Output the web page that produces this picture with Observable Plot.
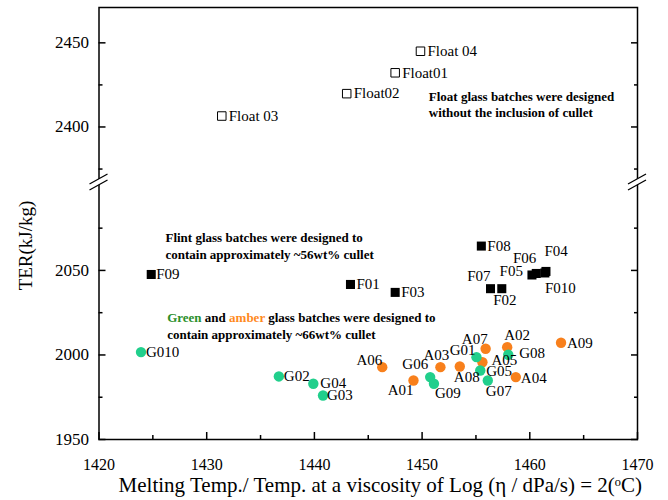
<!DOCTYPE html>
<html>
<head>
<meta charset="utf-8">
<script src="https://cdn.jsdelivr.net/npm/d3@7"></script>
<script src="https://cdn.jsdelivr.net/npm/@observablehq/plot@0.6"></script>
<style>
  body { margin: 0; background: #fff; }
  #chart svg { display: block; }
  #chart svg text { font-family: 'Liberation Serif', 'Times New Roman', Times, serif; }
</style>
</head>
<body>
<div id="chart"></div>
<script>
// ---------- data ----------
const floatNames = ["Float01", "Float02", "Float 03", "Float 04"];
const floatX = [1447.5, 1443.0, 1431.4, 1449.85];
const floatY = [2432.2, 2419.8, 2406.5, 2445.0];

const flintNames = ["F01", "F02", "F03", "F04", "F05", "F06", "F07", "F08", "F09", "F010"];
const flintX = [1443.35, 1457.4, 1447.5, 1461.5, 1460.2, 1460.6, 1456.35, 1455.5, 1424.85, 1461.4];
const flintY = [2041.7, 2039.2, 2037.0, 2049.4, 2047.3, 2048.2, 2039.2, 2064.4, 2047.6, 2048.5];

const greenNames = ["G01", "G02", "G03", "G04", "G05", "G06", "G07", "G08", "G09", "G010"];
const greenX = [1455.05, 1436.7, 1440.8, 1439.9, 1455.4, 1450.75, 1456.1, 1458.0, 1451.1, 1423.9];
const greenY = [1998.7, 1987.3, 1976.0, 1983.0, 1990.8, 1986.9, 1984.9, 2000.1, 1983.0, 2001.7];

const amberNames = ["A01", "A02", "A03", "A04", "A05", "A06", "A07", "A08", "A09"];
const amberX = [1449.2, 1457.9, 1451.7, 1458.7, 1455.6, 1446.3, 1455.9, 1453.5, 1462.9];
const amberY = [1984.9, 2004.6, 1992.8, 1986.9, 1995.7, 1992.8, 2003.7, 1993.2, 2007.2];

const xMajor = [1420, 1430, 1440, 1450, 1460, 1470];
const xMinor = [1425, 1435, 1445, 1455, 1465];
const yMajor = [1950, 2000, 2050, 2400, 2450];
const yMinor = [1975, 2025, 2075, 2375, 2425];
const yBreak = [2102, 2367];          // lower section top / upper section bottom
const yExtent = [1950, 2471];

const xLabel = "Melting Temp./ Temp. at a viscosity of Log (\u03B7 / dPa/s) = 2(\u1D52C)";
const yLabel = "TER(kJ/kg)";

const noteFloat = { x: 1450.62, y: 2413.8, text: "Float glass batches were designed\nwithout the inclusion of cullet" };
const noteFlint = { x: 1426.17, y: 2064.8, text: "Flint glass batches were designed to\ncontain approximately ~56wt% cullet" };
const gaLine1 = "Green and amber glass batches were designed to";
const noteGA = { x: 1426.33, y: 2017.8, text: gaLine1 + "\ncontain approximately ~66wt% cullet" };

// label placement: [textAnchor, dx, dy]
const labelPlacement = {
  "Float01": ["start", 7, 0], "Float02": ["start", 7, 0], "Float 03": ["start", 7, 0], "Float 04": ["start", 7, 0],
  "F01": ["start", 6, 0], "F03": ["start", 6, 0], "F08": ["start", 6, 0], "F09": ["start", 5, 0],
  "F07": ["end", 0, -12], "F02": ["middle", 3, 12], "F05": ["end", -9, -4], "F06": ["end", 0, -15],
  "F04": ["start", -1.5, -20], "F010": ["start", 0, 15],
  "A09": ["start", 6, 0], "A02": ["start", -3, -12], "G08": ["start", 11, -2], "A07": ["end", 2, -10],
  "G01": ["end", -1, -7], "A05": ["start", 9, -2], "G05": ["start", 6, 1], "A08": ["start", -6, 11],
  "G07": ["start", -2, 11], "A04": ["start", 5, 1], "A03": ["middle", -4, -12], "G06": ["end", -2, -13],
  "G09": ["start", 1, 9], "A01": ["end", 0, 10], "A06": ["end", 0, -7], "G04": ["start", 7, -1],
  "G03": ["start", 4, 0], "G02": ["start", 5, 0], "G010": ["start", 5, 0]
};

// ---------- build tables ----------
const zip = (names, xs, ys) => names.map((name, i) => ({ name, x: xs[i], y: ys[i] }));
const floatData = zip(floatNames, floatX, floatY);
const flintData = zip(flintNames, flintX, flintY);
const greenData = zip(greenNames, greenX, greenY);
const amberData = zip(amberNames, amberX, amberY);
const allPoints = [...floatData, ...flintData, ...greenData, ...amberData];

const serif = "'Liberation Serif', 'Times New Roman', Times, serif";
const GREEN = "#21cf8c", AMBER = "#f8801c";
const fmt = d => String(d);

const labelMarks = allPoints.map(d => {
  const [anchor, dx, dy] = labelPlacement[d.name];
  return Plot.text([d], { x: "x", y: "y", text: "name", textAnchor: anchor, dx, dy, fontSize: 15, fontFamily: serif, fill: "#000" });
});

const noteMark = (n) => Plot.text([n], {
  x: "x", y: "y", text: "text", textAnchor: "start", lineAnchor: "middle",
  lineHeight: 1.28, fontSize: 13, fontWeight: "bold", fontFamily: serif, fill: "#000"
});

const plot = Plot.plot({
  width: 668,
  height: 500,
  marginLeft: 98.5,
  marginRight: 31,
  marginTop: 7,
  marginBottom: 61,
  style: { fontFamily: serif, fontSize: "16px", background: "#fff", color: "#000" },
  x: { domain: [1420, 1470] },
  y: { type: "linear", domain: [yExtent[0], yBreak[0], yBreak[1], yExtent[1]], range: [439, 182, 182, 7] },
  marks: [
    // tick labels
    Plot.axisX(xMajor, { tickSize: 0, tickPadding: 19, fontSize: 16, fontFamily: serif, tickFormat: fmt, label: null }),
    Plot.axisY(yMajor, { tickSize: 0, tickPadding: 10, fontSize: 17, fontFamily: serif, tickFormat: fmt, label: null }),
    // inward ticks
    Plot.axisX(xMajor, { tickSize: -7, tickFormat: () => "", label: null, strokeWidth: 1.5 }),
    Plot.axisX(xMinor, { tickSize: -4, tickFormat: () => "", label: null, strokeWidth: 1.5 }),
    Plot.axisY(yMajor, { tickSize: -7, tickFormat: () => "", label: null, strokeWidth: 1.5 }),
    Plot.axisY(yMinor, { tickSize: -4, tickFormat: () => "", label: null, strokeWidth: 1.5 }),
    Plot.axisY(yMajor, { anchor: "right", tickSize: -7, tickFormat: () => "", label: null, strokeWidth: 1.5 }),
    Plot.axisY(yMinor, { anchor: "right", tickSize: -4, tickFormat: () => "", label: null, strokeWidth: 1.5 }),
    Plot.frame({ stroke: "#000", strokeWidth: 1.5 }),
    // axis titles
    Plot.text([xLabel], { frameAnchor: "bottom", lineAnchor: "middle", textAnchor: "middle", dx: 12, dy: 46, fontSize: 21, fontFamily: serif, fill: "#000" }),
    Plot.text([yLabel], { frameAnchor: "left", lineAnchor: "middle", textAnchor: "middle", dx: -73.5, dy: 22, rotate: -90, fontSize: 19, fontFamily: serif, fill: "#000" }),
    // points
    Plot.dot(floatData, { x: "x", y: "y", symbol: "square", r: 4.8, stroke: "#000", strokeWidth: 1, fill: "#fff" }),
    Plot.dot(flintData, { x: "x", y: "y", symbol: "square", r: 5.1, fill: "#000", stroke: "none" }),
    Plot.dot(amberData, { x: "x", y: "y", r: 5.2, fill: AMBER, stroke: "none" }),
    Plot.dot(greenData, { x: "x", y: "y", r: 5.2, fill: GREEN, stroke: "none" }),
    ...labelMarks,
    noteMark(noteFloat),
    noteMark(noteFlint),
    noteMark(noteGA)
  ]
});

document.getElementById("chart").appendChild(plot);

// colour the words "Green" and "amber" in the annotation
d3.select(plot).selectAll("tspan").filter(function () { return this.textContent === gaLine1; })
  .each(function () {
    const t = d3.select(this);
    t.text(null);
    t.append("tspan").attr("fill", "#2a8f2a").text("Green");
    t.append("tspan").attr("fill", "#000").text(" and ");
    t.append("tspan").attr("fill", "#ff8a1e").text("amber");
    t.append("tspan").attr("fill", "#000").text(" glass batches were designed to");
  });

// axis-break symbols on left and right axes
const sx = plot.scale("x"), sy = plot.scale("y");
const yb = sy.apply(yBreak[0]);
const svg = d3.select(plot);
for (const xb of [sx.apply(1420), sx.apply(1470)]) {
  const g = svg.append("g");
  const k = 10 / 18;
  g.append("path")
    .attr("d", `M${xb - 3},${yb - 3 + 3 * k} L${xb + 3},${yb - 3 - 3 * k} L${xb + 3},${yb + 3 - 3 * k} L${xb - 3},${yb + 3 + 3 * k} Z`)
    .attr("fill", "#fff");
  for (const off of [-3, 3]) {
    g.append("line")
      .attr("x1", xb - 9).attr("y1", yb + off + 9 * k)
      .attr("x2", xb + 9).attr("y2", yb + off - 9 * k)
      .attr("stroke", "#000").attr("stroke-width", 1.3);
  }
}
</script>
</body>
</html>
